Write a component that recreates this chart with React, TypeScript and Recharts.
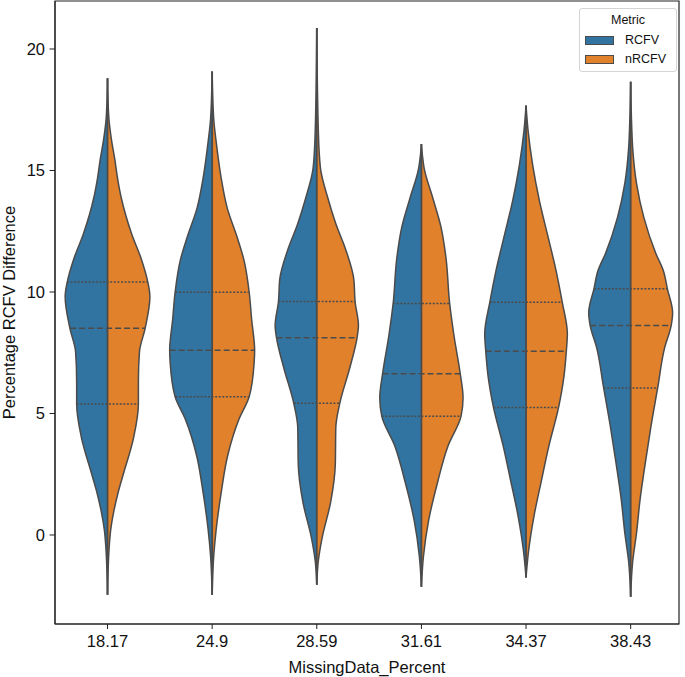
import { ComposedChart, Area, XAxis, YAxis, ReferenceLine, ReferenceArea } from 'recharts';

const categories = ['18.17', '24.9', '28.59', '31.61', '34.37', '38.43'];
const metrics = ['RCFV', 'nRCFV'];
const metricColors = ['#3274a1', '#e1812c'];
const yTicks = [0, 5, 10, 15, 20];

// violin outlines: value level -> half width (in category slots)
const levels1817 = [18.8, 17.2, 16.2, 15.45, 14.7, 13.9, 12.4, 11.33, 10.41, 9.81, 8.51, 7.53, 6.3, 5.39, 4.02, 2.49, 1.73, 0.97, 0.2, -0.56, -2.46];
const widths1817 = [0, 0.012, 0.04, 0.07, 0.095, 0.13, 0.23, 0.325, 0.385, 0.405, 0.36, 0.305, 0.295, 0.295, 0.25, 0.15, 0.1, 0.06, 0.03, 0.015, 0];

const levels249 = [19.07, 17.12, 16.2, 14.7, 13.47, 12.25, 11.33, 9.99, 8.89, 7.6, 7.07, 5.69, 4.78, 3.26, 1.73, 0.21, -0.86, -2.46];
const widths249 = [0, 0.015, 0.038, 0.086, 0.143, 0.239, 0.303, 0.354, 0.377, 0.406, 0.401, 0.354, 0.258, 0.148, 0.086, 0.038, 0.015, 0];

const levels2859 = [20.86, 16.6, 15.1, 13.88, 12.81, 11.74, 10.52, 9.61, 8.62, 8.12, 6.87, 5.42, 4.43, 2.9, 1.38, -0.14, -1.06, -2.05];
const widths2859 = [0, 0.015, 0.035, 0.105, 0.182, 0.277, 0.354, 0.366, 0.398, 0.385, 0.315, 0.22, 0.182, 0.177, 0.134, 0.05, 0.015, 0];

const levels3161 = [16.09, 15.6, 15.1, 13.88, 12.66, 11.44, 9.53, 8.24, 6.64, 5.65, 4.89, 3.67, 2.14, 0.62, -0.9, -2.13];
const widths3161 = [0, 0.01, 0.026, 0.108, 0.188, 0.234, 0.27, 0.31, 0.371, 0.398, 0.379, 0.255, 0.153, 0.07, 0.019, 0];

const levels3437 = [17.67, 16.66, 15.21, 13.77, 12.33, 10.88, 9.58, 8.28, 7.56, 6.55, 5.25, 3.66, 2.22, 0.78, -0.67, -1.75];
const widths3437 = [0, 0.019, 0.064, 0.127, 0.207, 0.287, 0.346, 0.395, 0.385, 0.363, 0.311, 0.218, 0.146, 0.076, 0.024, 0];

const levels3843 = [18.65, 16.8, 15.94, 14.49, 13.05, 11.6, 10.88, 10.13, 9.15, 8.62, 7.71, 6.05, 4.39, 2.94, 1.5, 0.05, -1.1, -2.54];
const widths3843 = [0, 0.01, 0.019, 0.055, 0.127, 0.239, 0.312, 0.351, 0.401, 0.387, 0.325, 0.258, 0.191, 0.139, 0.091, 0.055, 0.019, 0];

// inner quartiles: [Q1, median, Q3] and their half widths
const quart1817 = [5.39, 8.51, 10.41];
const quartW1817 = [0.296, 0.358, 0.387];
const quart249 = [5.69, 7.6, 9.99];
const quartW249 = [0.35, 0.406, 0.35];
const quart2859 = [5.42, 8.12, 9.61];
const quartW2859 = [0.22, 0.385, 0.366];
const quart3161 = [4.89, 6.64, 9.53];
const quartW3161 = [0.379, 0.371, 0.27];
const quart3437 = [5.25, 7.56, 9.58];
const quartW3437 = [0.311, 0.385, 0.346];
const quart3843 = [6.05, 8.62, 10.13];
const quartW3843 = [0.258, 0.387, 0.351];

const violins = [
  { levels: levels1817, widths: widths1817, quart: quart1817, quartW: quartW1817 },
  { levels: levels249, widths: widths249, quart: quart249, quartW: quartW249 },
  { levels: levels2859, widths: widths2859, quart: quart2859, quartW: quartW2859 },
  { levels: levels3161, widths: widths3161, quart: quart3161, quartW: quartW3161 },
  { levels: levels3437, widths: widths3437, quart: quart3437, quartW: quartW3437 },
  { levels: levels3843, widths: widths3843, quart: quart3843, quartW: quartW3843 },
];

// one row per level, highest first; left half ends at i - w, right half at i + w
const allLevels = Array.from(new Set(violins.flatMap((v) => v.levels))).sort((a, b) => b - a);
const tableData = allLevels.map((y) => {
  const row: Record<string, number> = { y };
  violins.forEach((v, i) => {
    const k = v.levels.indexOf(y);
    if (k >= 0) {
      row[`l${i}`] = i - v.widths[k];
      row[`r${i}`] = i + v.widths[k];
    }
  });
  return row;
});

const X_DOMAIN: [number, number] = [-0.502, 5.462];
const Y_DOMAIN: [number, number] = [-3.663, 21.975];
const EDGE = '#4b4b4b';
const INK = '#111';
const FONT = '"Liberation Sans", Arial, sans-serif';

export default function App() {
  return (
    <div style={{ position: 'absolute', left: 0, top: 0, width: 685, height: 677, background: '#fff', fontFamily: FONT }}>
      <ComposedChart
        width={685}
        height={677}
        data={tableData}
        layout="vertical"
        margin={{ top: 1, right: 6, bottom: 0, left: 0 }}
      >
        <XAxis
          type="number"
          domain={X_DOMAIN}
          allowDataOverflow
          ticks={[0, 1, 2, 3, 4, 5]}
          tickFormatter={(i: number) => categories[i]}
          height={53}
          tickSize={5}
          tickMargin={6}
          stroke="#222"
          tick={{ fill: INK, fontSize: 16.5, fontFamily: FONT }}
          label={{ value: 'MissingData_Percent', position: 'insideBottom', offset: 4.5, fill: INK, fontSize: 16.5, fontFamily: FONT }}
        />
        <YAxis
          type="number"
          dataKey="y"
          domain={Y_DOMAIN}
          allowDataOverflow
          reversed
          ticks={yTicks}
          width={55}
          tickSize={5.5}
          tickMargin={4.5}
          stroke="#222"
          tick={{ fill: INK, fontSize: 16.5, fontFamily: FONT }}
          label={{ value: 'Percentage RCFV Difference', angle: -90, position: 'insideLeft', offset: 9.5, fill: INK, fontSize: 16.5, fontFamily: FONT, style: { textAnchor: 'middle' } }}
        />
        {violins.map((v, i) => (
          <Area
            key={`l${i}`}
            dataKey={`l${i}`}
            baseValue={i}
            type="monotone"
            connectNulls
            fill={metricColors[0]}
            fillOpacity={1}
            stroke={EDGE}
            strokeWidth={1.5}
            dot={false}
            activeDot={false}
            isAnimationActive={false}
          />
        ))}
        {violins.map((v, i) => (
          <Area
            key={`r${i}`}
            dataKey={`r${i}`}
            baseValue={i}
            type="monotone"
            connectNulls
            fill={metricColors[1]}
            fillOpacity={1}
            stroke={EDGE}
            strokeWidth={1.5}
            dot={false}
            activeDot={false}
            isAnimationActive={false}
          />
        ))}
        {violins.map((v, i) => (
          <ReferenceLine
            key={`c${i}`}
            segment={[
              { x: i, y: v.levels[v.levels.length - 1] },
              { x: i, y: v.levels[0] },
            ]}
            stroke={EDGE}
            strokeWidth={1.8}
          />
        ))}
        {violins.flatMap((v, i) =>
          v.quart.map((q, j) => (
            <ReferenceLine
              key={`q${i}-${j}`}
              segment={[
                { x: i - v.quartW[j], y: q },
                { x: i + v.quartW[j], y: q },
              ]}
              stroke={EDGE}
              strokeWidth={1.5}
              strokeDasharray={j === 1 ? '6 3' : '2 1.6'}
            />
          ))
        )}
        <ReferenceArea x1={X_DOMAIN[0]} x2={X_DOMAIN[1]} y1={Y_DOMAIN[0]} y2={Y_DOMAIN[1]} fill="none" stroke="#222" strokeWidth={1.2} />
      </ComposedChart>

      <div
        style={{
          position: 'absolute',
          left: 579,
          top: 8,
          width: 98,
          height: 64,
          boxSizing: 'border-box',
          border: '1px solid #d4d4d4',
          borderRadius: 3,
          background: 'rgba(255,255,255,0.85)',
          fontSize: 12.5,
          color: INK,
        }}
      >
        <div style={{ position: 'absolute', top: 4, left: 0, width: '100%', textAlign: 'center' }}>Metric</div>
        {metrics.map((m, i) => (
          <div key={m} style={{ position: 'absolute', top: 24 + i * 19, left: 5, display: 'flex', alignItems: 'center' }}>
            <span style={{ display: 'inline-block', width: 29, height: 9, background: metricColors[i], border: `1px solid ${EDGE}`, boxSizing: 'border-box' }} />
            <span style={{ marginLeft: 11, lineHeight: '15px' }}>{m}</span>
          </div>
        ))}
      </div>
    </div>
  );
}
